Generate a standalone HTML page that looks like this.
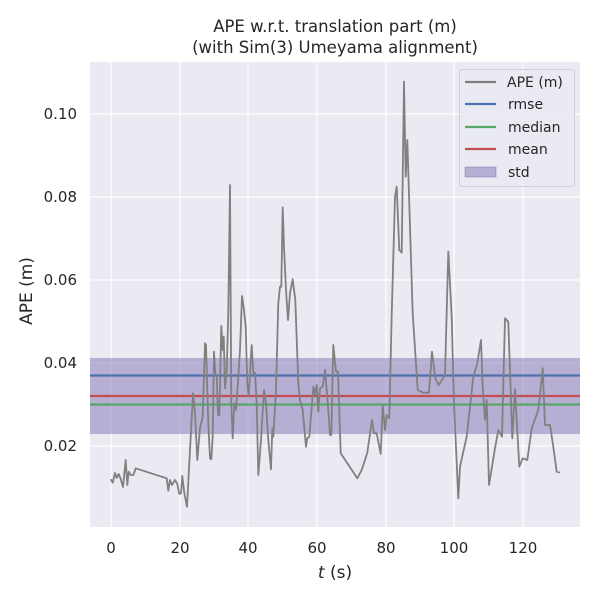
<!DOCTYPE html>
<html><head><meta charset="utf-8"><style>body{margin:0;background:#fff}</style></head><body>
<svg width="600" height="600" xmlns="http://www.w3.org/2000/svg" font-family="DejaVu Sans, Liberation Sans, sans-serif" fill="#262626">
<rect x="90" y="62" width="490" height="465" fill="#eaeaf2"/>
<g stroke="#fff" stroke-width="1.2">
<line x1="111" y1="62" x2="111" y2="527"/><line x1="180" y1="62" x2="180" y2="527"/><line x1="248" y1="62" x2="248" y2="527"/><line x1="317" y1="62" x2="317" y2="527"/><line x1="386" y1="62" x2="386" y2="527"/><line x1="454" y1="62" x2="454" y2="527"/><line x1="523" y1="62" x2="523" y2="527"/>
<line x1="90" y1="114" x2="580" y2="114"/><line x1="90" y1="197" x2="580" y2="197"/><line x1="90" y1="280" x2="580" y2="280"/><line x1="90" y1="363" x2="580" y2="363"/><line x1="90" y1="446" x2="580" y2="446"/>
</g>
<rect x="90" y="358" width="490" height="76" fill="#8172b3" fill-opacity="0.5"/>
<line x1="90" y1="375.5" x2="580" y2="375.5" stroke="#4c72b0" stroke-width="2.2"/>
<line x1="90" y1="404.5" x2="580" y2="404.5" stroke="#55a868" stroke-width="2.2"/>
<line x1="90" y1="396" x2="580" y2="396" stroke="#c44e52" stroke-width="2.2"/>
<polyline fill="none" stroke="#808080" stroke-width="1.8" stroke-linejoin="round" points="110.7,479.3 112.7,482.7 115,473 116.7,478 118.7,474 120.7,479 123,487 125.7,460 127.3,485 128.7,471.7 130.7,475 133.3,475 135.7,468.3 166.7,478.3 168.3,490.7 170,480 172,485 175,480 177.3,484 179.3,494 181,493 182.3,476 184.3,493 187,506.7 189.3,463.3 193,393.3 195,413 197.3,460 200,428 202.7,416.7 205,343.3 206,345 208.3,423.3 210,458.3 211.3,459.3 212.7,436.7 214,351.7 215.3,373.3 216.7,376.7 218,415 219.3,415 221.3,326 222.7,350 223.7,336.7 225,388.3 226.7,370 228.3,313.3 230,185 231.3,403.3 232.7,438.3 234.3,403.3 236,410 238.3,376.7 240,350 242,296 244,310 245.7,326.7 247.3,383.3 248.7,396.7 250,373.3 251.7,345 253.3,373.3 255,373 256.7,403.3 258.3,475 261,440 264,390 266,403.3 268.3,440 271,469.3 272.3,428.3 273.3,436.7 276,390 278.3,303.3 280,286.7 281.3,286.7 282.7,207.3 284,246.7 286,290 288,320 290,293.3 292.7,279.3 295.3,300 298.3,383.3 300,400 302.7,410 306,446.7 307.3,438.3 309.3,436.7 313.3,386.7 315,394 316.7,385 318.3,411.7 320,388.3 322.7,386.7 325,370 327.3,396.7 330,435 331.3,435 333.3,345 336,371.7 338,371.7 340.7,453.3 357.3,478.3 361.7,470 367.3,452.7 372,420 374,433.3 376.7,433.3 380.7,454 382.7,405 385,430 386.7,415 389.3,418.3 391.7,315 395,196.7 396.7,186.7 399.3,250 401.7,252.7 404,81.7 405.7,176.7 407.3,140 410,226.7 412.7,313.3 417.7,390 423.3,392.7 429,392.7 432,351.7 435.3,378.3 438.7,385 445,375 448.3,251.7 451.7,316.7 454,403.3 458.3,498.3 460,466.7 466.7,436.7 473.3,376.7 477.3,363.3 481,340 482.7,386.7 485,420 486.7,400 489,485 495,448.3 498.3,430 502,436.7 505,318.3 508.3,321.7 512.3,438.3 515,389.3 519.3,466.7 522.7,458.3 527.3,460 531.7,428.3 538.3,410 542.7,368.3 545,425 550,425 553.3,446.7 556.7,471.7 560,472.7"/>
<g font-size="15" text-anchor="middle">
<text x="111" y="553">0</text><text x="180" y="553">20</text><text x="248" y="553">40</text><text x="317" y="553">60</text><text x="386" y="553">80</text><text x="454" y="553">100</text><text x="523" y="553">120</text>
</g>
<g font-size="15" text-anchor="end">
<text x="77" y="119">0.10</text><text x="77" y="202">0.08</text><text x="77" y="285">0.06</text><text x="77" y="368">0.04</text><text x="77" y="451">0.02</text>
</g>
<text x="335" y="578" font-size="17" text-anchor="middle"><tspan font-style="italic">t</tspan> (s)</text>
<text transform="translate(32,291) rotate(-90)" font-size="17" text-anchor="middle">APE (m)</text>
<text x="335" y="32" font-size="16.5" text-anchor="middle">APE w.r.t. translation part (m)</text>
<text x="335" y="53" font-size="16.5" text-anchor="middle">(with Sim(3) Umeyama alignment)</text>
<rect x="459.5" y="69.5" width="115" height="117" rx="3" fill="#eaeaf2" fill-opacity="0.85" stroke="#d0d0d8"/>
<g stroke-width="2.2"><line x1="465" y1="82" x2="496" y2="82" stroke="#808080"/><line x1="465" y1="104" x2="496" y2="104" stroke="#4c72b0"/><line x1="465" y1="127" x2="496" y2="127" stroke="#55a868"/><line x1="465" y1="149" x2="496" y2="149" stroke="#c44e52"/></g>
<rect x="465" y="167" width="31" height="10" fill="#8172b3" fill-opacity="0.5" stroke="#8172b3" stroke-opacity="0.5"/>
<g font-size="14"><text x="507" y="87">APE (m)</text><text x="508" y="109">rmse</text><text x="508" y="132">median</text><text x="508" y="154">mean</text><text x="508" y="177">std</text></g>
</svg>
</body></html>
